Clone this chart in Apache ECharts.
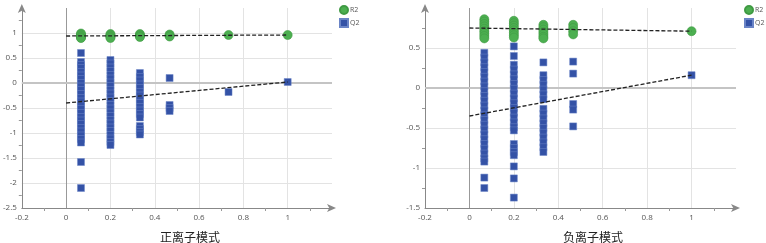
<!DOCTYPE html>
<html>
<head>
<meta charset="utf-8">
<script src="https://cdn.jsdelivr.net/npm/echarts@6/dist/echarts.min.js"></script>
<style>
  html, body { margin: 0; padding: 0; background: #fff; }
  #chart { width: 766px; height: 243px; }
</style>
</head>
<body>
<div id="chart"></div>
<script>
// permutation positions (x) and values per column
const posX = [0.067, 0.2, 0.333, 0.467, 0.733, 1];
const posR2 = [
  [0.99, 0.97, 0.95, 0.93, 0.91, 0.9],
  [0.98, 0.96, 0.94, 0.92, 0.9],
  [0.98, 0.96, 0.94, 0.92],
  [0.97, 0.95, 0.93],
  [0.96],
  [0.96]
];
const posQ2 = [
  [0.6, 0.42, 0.36, 0.3, 0.22, 0.15, 0.08, 0.0, -0.07, -0.14, -0.22, -0.3, -0.37, -0.45, -0.52, -0.6, -0.68, -0.75, -0.82, -0.9, -0.97, -1.05, -1.12, -1.19, -1.58, -2.1],
  [0.46, 0.39, 0.31, 0.24, 0.16, 0.09, 0.01, -0.06, -0.14, -0.21, -0.29, -0.36, -0.44, -0.51, -0.59, -0.66, -0.74, -0.81, -0.89, -0.96, -1.04, -1.11, -1.18, -1.24],
  [0.2, 0.12, 0.05, -0.03, -0.1, -0.18, -0.25, -0.33, -0.4, -0.48, -0.55, -0.62, -0.69, -0.86, -0.92, -0.98, -1.03],
  [0.1, -0.44, -0.5, -0.56],
  [-0.18],
  [0.02]
];
const posR2Fit = [[0, 0.94], [1, 0.96]];
const posQ2Fit = [[0, -0.4], [1, 0.02]];

const negX = [0.067, 0.2, 0.333, 0.467, 1];
const negR2 = [
  [0.86, 0.83, 0.8, 0.77, 0.74, 0.71, 0.68, 0.65, 0.62],
  [0.84, 0.81, 0.78, 0.75, 0.72, 0.69, 0.66, 0.63],
  [0.79, 0.76, 0.73, 0.7, 0.67, 0.64, 0.62],
  [0.79, 0.75, 0.71, 0.67],
  [0.71]
];
const negQ2 = [
  [0.44, 0.38, 0.32, 0.26, 0.2, 0.14, 0.08, 0.02, -0.04, -0.1, -0.16, -0.22, -0.28, -0.34, -0.4, -0.46, -0.52, -0.58, -0.64, -0.7, -0.76, -0.82, -0.88, -0.92, -1.12, -1.25],
  [0.52, 0.4, 0.29, 0.23, 0.17, 0.11, 0.05, -0.01, -0.07, -0.13, -0.19, -0.25, -0.31, -0.37, -0.43, -0.49, -0.53, -0.7, -0.75, -0.8, -0.84, -0.98, -1.13, -1.37],
  [0.32, 0.16, 0.1, 0.04, -0.02, -0.08, -0.14, -0.26, -0.32, -0.38, -0.44, -0.5, -0.56, -0.62, -0.68, -0.74, -0.8],
  [0.33, 0.18, -0.2, -0.27, -0.48],
  [0.16]
];
const negR2Fit = [[0, 0.75], [1, 0.71]];
const negQ2Fit = [[0, -0.35], [1, 0.16]];

const titles = ['正离子模式', '负离子模式'];

const green = '#4caf50';
const blue = '#3452a6';

function toPoints(xs, cols) {
  let pts = [];
  cols.forEach((col, i) => col.forEach(v => pts.push([xs[i], v])));
  return pts;
}

function makeXAxis(idx) {
  return {
    gridIndex: idx, type: 'value', min: -0.2, max: 1.2, interval: 0.2,
    axisLine: {onZero: false, lineStyle: {color: '#888'}, symbol: ['none', 'arrow'], symbolSize: [6, 9], symbolOffset: [0, 4]},
    axisTick: {show: false},
    minorTick: {show: true, splitNumber: 2, length: 3, lineStyle: {color: '#999'}},
    axisLabel: {color: '#555', fontSize: 8, margin: 6, showMaxLabel: false, fontFamily: 'Open Sans'},
    splitLine: {show: true, showMaxLine: false, showMinLine: false, lineStyle: {color: '#e3e3e3'}}
  };
}

function makeYAxis(idx, min, max) {
  return {
    gridIndex: idx, type: 'value', min: min, max: max, interval: 0.5,
    axisLine: {show: true, onZero: false, lineStyle: {color: '#888'}, symbol: ['none', 'arrow'], symbolSize: [6, 9], symbolOffset: [0, 4]},
    axisTick: {show: false},
    minorTick: {show: true, splitNumber: 2, length: 3, lineStyle: {color: '#999'}},
    axisLabel: {color: '#555', fontSize: 8, margin: 5, showMaxLabel: false, fontFamily: 'Open Sans'},
    splitLine: {show: true, showMaxLine: false, showMinLine: false, lineStyle: {color: '#e3e3e3'}}
  };
}

function panelSeries(idx, xs, r2, q2, r2Fit, q2Fit) {
  return [
    {
      name: 'R2', type: 'scatter', xAxisIndex: idx, yAxisIndex: idx,
      symbol: 'circle', symbolSize: 9,
      itemStyle: {color: green, borderColor: '#3f9a43', borderWidth: 0.6, opacity: 1},
      data: toPoints(xs, r2), z: 3
    },
    {
      name: 'Q2', type: 'scatter', xAxisIndex: idx, yAxisIndex: idx,
      symbol: 'rect', symbolSize: 7,
      itemStyle: {color: blue, borderColor: '#6a84c6', borderWidth: 0.5, opacity: 1},
      data: toPoints(xs, q2), z: 3
    },
    {
      type: 'line', xAxisIndex: idx, yAxisIndex: idx, data: r2Fit,
      symbol: 'none', lineStyle: {color: '#222', width: 1.3, type: [4, 2]}, z: 4,
      markLine: {
        silent: true, symbol: 'none', label: {show: false},
        data: [
          {xAxis: 0, lineStyle: {color: '#999', width: 1, type: 'solid'}},
          {yAxis: 0, lineStyle: {color: '#c4c4c4', width: 2, type: 'solid'}}
        ],
        z: 1
      }
    },
    {
      type: 'line', xAxisIndex: idx, yAxisIndex: idx, data: q2Fit,
      symbol: 'none', lineStyle: {color: '#222', width: 1.3, type: [4, 2]}, z: 4
    }
  ];
}

const chart = echarts.init(document.getElementById('chart'), null, {renderer: 'canvas'});
chart.setOption({
  animation: false,
  textStyle: {fontFamily: 'Open Sans'},
  title: [
    {text: titles[0], left: 185, top: 226, textAlign: 'center',
     textStyle: {fontSize: 12, fontWeight: 'normal', color: '#222', fontFamily: 'Noto Sans CJK SC'}},
    {text: titles[1], left: 588, top: 226, textAlign: 'center',
     textStyle: {fontSize: 12, fontWeight: 'normal', color: '#222', fontFamily: 'Noto Sans CJK SC'}}
  ],
  legend: [
    {orient: 'vertical', left: 339, top: 5, padding: 0, itemWidth: 8, itemHeight: 8, itemGap: 3,
     data: [{name: 'R2', icon: 'circle'}, {name: 'Q2', icon: 'rect'}],
     textStyle: {fontSize: 7, color: '#555', padding: [0, 0, 0, -3]}},
    {orient: 'vertical', left: 744, top: 5, padding: 0, itemWidth: 8, itemHeight: 8, itemGap: 3,
     data: [{name: 'R2', icon: 'circle'}, {name: 'Q2', icon: 'rect'}],
     textStyle: {fontSize: 7, color: '#555', padding: [0, 0, 0, -3]}}
  ],
  grid: [
    {left: 21, top: 8, width: 311, height: 200},
    {left: 425, top: 8, width: 311, height: 200}
  ],
  xAxis: [makeXAxis(0), makeXAxis(1)],
  yAxis: [makeYAxis(0, -2.5, 1.5), makeYAxis(1, -1.5, 1.0)],
  series: [].concat(
    panelSeries(0, posX, posR2, posQ2, posR2Fit, posQ2Fit),
    panelSeries(1, negX, negR2, negQ2, negR2Fit, negQ2Fit)
  )
});
</script>
</body>
</html>
